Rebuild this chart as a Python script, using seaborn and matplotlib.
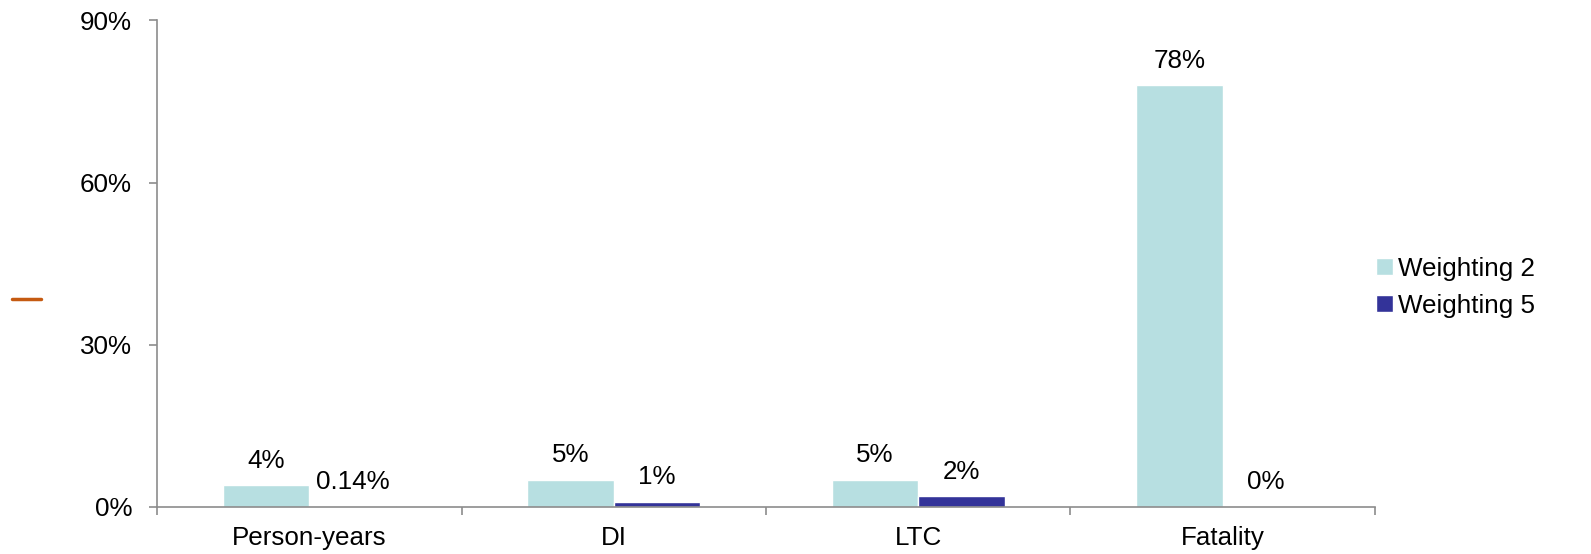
import matplotlib
matplotlib.use("Agg")
import matplotlib.pyplot as plt
from matplotlib.lines import Line2D
from matplotlib.ticker import FixedLocator, PercentFormatter
import pandas as pd
import seaborn as sns

categories = ["Person-years", "DI", "LTC", "Fatality"]
weighting_2 = [4, 5, 5, 78]
weighting_5 = [0.14, 1, 2, 0]
series_names = ["Weighting 2", "Weighting 5"]
colors = ["#B7DFE1", "#333399"]

df = pd.DataFrame({
    "Category": categories * 2,
    "Value": weighting_2 + weighting_5,
    "Series": [series_names[0]] * len(categories) + [series_names[1]] * len(categories),
})

sns.set_style("white")
plt.rcParams["font.family"] = ["Liberation Sans", "DejaVu Sans"]
plt.rcParams["font.size"] = 18.7
plt.rcParams["text.color"] = "black"
plt.rcParams["xtick.color"] = "#8C8C8C"
plt.rcParams["ytick.color"] = "#8C8C8C"
plt.rcParams["xtick.labelcolor"] = "black"
plt.rcParams["ytick.labelcolor"] = "black"

fig = plt.figure(figsize=(15.91, 5.54), dpi=100)
ax = fig.add_axes([0.0987, 0.085, 0.7655, 0.878])

sns.barplot(data=df, x="Category", y="Value", hue="Series", palette=colors,
            width=0.567, gap=0, saturation=1, ax=ax)

for cont in ax.containers:
    ax.bar_label(cont, labels=[f"{b.get_height():g}%" for b in cont],
                 padding=9, fontsize=18.7, color="black")

ax.set_ylim(0, 90)
ax.set_xlim(-0.5, len(categories) - 0.5)
ax.set_yticks([0, 30, 60, 90])
ax.yaxis.set_major_formatter(PercentFormatter(decimals=0))
ax.set_xlabel("")
ax.set_ylabel("")

# tick marks at category boundaries, labels at centres
ax.xaxis.set_minor_locator(FixedLocator([i - 0.5 for i in range(len(categories) + 1)]))
ax.tick_params(axis="x", which="major", bottom=True, length=0, pad=14, labelsize=18.7)
ax.tick_params(axis="x", which="minor", bottom=True, length=6, width=1.2, direction="out")
ax.tick_params(axis="y", left=True, length=6, width=1.2, direction="out", pad=12, labelsize=18.7)

for s in ["top", "right"]:
    ax.spines[s].set_visible(False)
for s in ["left", "bottom"]:
    ax.spines[s].set_color("#8C8C8C")
    ax.spines[s].set_linewidth(1.2)

ax.legend(loc="center left", bbox_to_anchor=(0.982, 0.452), frameon=False,
          fontsize=18.7, handlelength=0.65, handleheight=0.65, handletextpad=0.2,
          labelspacing=0.5)

# small orange mark on the left
fig.add_artist(Line2D([0.0075, 0.0258], [0.46, 0.46], color="#C55A11", lw=2.5,
                      transform=fig.transFigure))

fig.savefig("out.png", dpi=100)
